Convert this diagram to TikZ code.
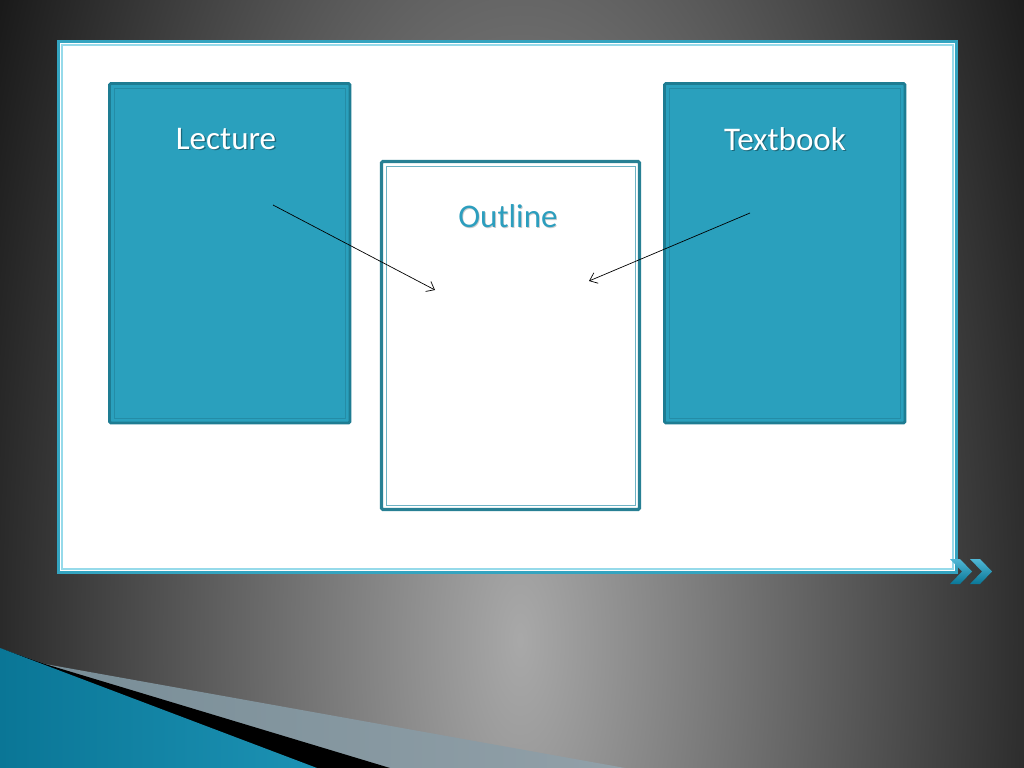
\documentclass[tikz,border=0pt]{standalone}
\usepackage{fontspec}
\setmainfont{Carlito}
\usetikzlibrary{arrows.meta}
\definecolor{boxteal}{RGB}{42,160,189}
\definecolor{boxedge}{RGB}{30,124,146}
\definecolor{boxline}{RGB}{36,140,166}
\definecolor{frameteal}{RGB}{52,164,192}
\definecolor{framelight}{RGB}{150,218,234}
\definecolor{outedge}{RGB}{40,128,148}
\definecolor{outline}{RGB}{110,178,196}
\definecolor{titleteal}{RGB}{44,158,190}
\definecolor{stripedark}{RGB}{10,118,150}
\definecolor{stripelight}{RGB}{80,184,214}
\definecolor{stripeend}{RGB}{28,146,180}
\definecolor{bandgray}{RGB}{118,140,150}
\definecolor{bandlight}{RGB}{146,160,168}
\tikzset{
	boxtitle/.style={font=\fontsize{23.5}{28}\selectfont, inner sep=0pt},
	titleshadow/.style={boxtitle, text=black, opacity=0.35},
	pointer/.style={line width=0.5pt, -{Straight Barb[length=5pt,width=8pt]}}
}
\def\chevronmark(#1,#2){\shade[top color=stripelight, bottom color=stripedark] (#1,#2) -- ++(10,0) -- ++(12,12.5) -- ++(-12,12.5) -- ++(-10,0) -- ++(12,-12.5) -- cycle;}

\begin{document}
\begin{tikzpicture}[x=0.025cm, y=-0.025cm]
			%%%%% START %%%%%
			\useasboundingbox (0,0) rectangle (1024,768);
			
			% background
			\begin{scope}
				\clip (0,0) rectangle (1024,768);
				\fill[black!95] (0,0) rectangle (1024,768);
				\shade[inner color=black!34, outer color=black!95] (520,640) ellipse (640 and 1500);
			\end{scope}
			
			% stripes bottom left
			\shade[left color=bandgray, right color=bandlight] (0,648) -- (45,664) -- (625,768) -- (0,768) -- cycle;
			\fill[black] (0,648) -- (45,664) -- (390,768) -- (0,768) -- cycle;
			\shade[left color=stripedark, middle color=stripelight, right color=stripeend] (0,648) -- (317,768) -- (0,768) -- cycle;
			
			% slide frame
			\draw[line width=2.6pt, color=frameteal, fill=white] (58.5,41.5) rectangle (956.5,572.5);
			\draw[line width=0.8pt, color=framelight] (62,45) rectangle (953,569);
			
			\chevronmark(950,559)
			\chevronmark(970,559)
			
			% boxes
			\draw[line width=2pt, color=boxedge, fill=boxteal, rounded corners=1pt] (109.5,83.5) rectangle (350,423);
			\draw[line width=0.6pt, color=boxline] (114,88) rectangle (345.5,418.5);
			
			\draw[line width=2pt, color=boxedge, fill=boxteal, rounded corners=1pt] (664.5,83.5) rectangle (905,423);
			\draw[line width=0.6pt, color=boxline] (669,88) rectangle (900.5,418.5);
			
			\draw[line width=2.2pt, color=outedge, fill=white, rounded corners=1pt] (381.5,161.5) rectangle (639.5,509.5);
			\draw[line width=0.7pt, color=outline] (386,166) rectangle (635,505);
			
			% titles
			\node[titleshadow] (lectureshadow) at (227.3,140.3) {Lecture};
			\node[boxtitle, text=white] (lecture) at (226,139) {Lecture};
			\node[titleshadow] (textbookshadow) at (786.3,140.3) {Textbook};
			\node[boxtitle, text=white] (textbook) at (785,139) {Textbook};
			\node[titleshadow, opacity=0.2] (outlineshadow) at (508.8,216.8) {Outline};
			\node[boxtitle, text=titleteal] (outlinetitle) at (508,216) {Outline};
			
			% arrows
			\coordinate (lecturetail) at (273,205);
			\coordinate (lecturehead) at (435,290);
			\coordinate (textbooktail) at (750,213);
			\coordinate (textbookhead) at (589,281);
			\draw[pointer] (lecturetail) -- (lecturehead);
			\draw[pointer] (textbooktail) -- (textbookhead);
			
			%%%%% END %%%%%
\end{tikzpicture}
\end{document}
